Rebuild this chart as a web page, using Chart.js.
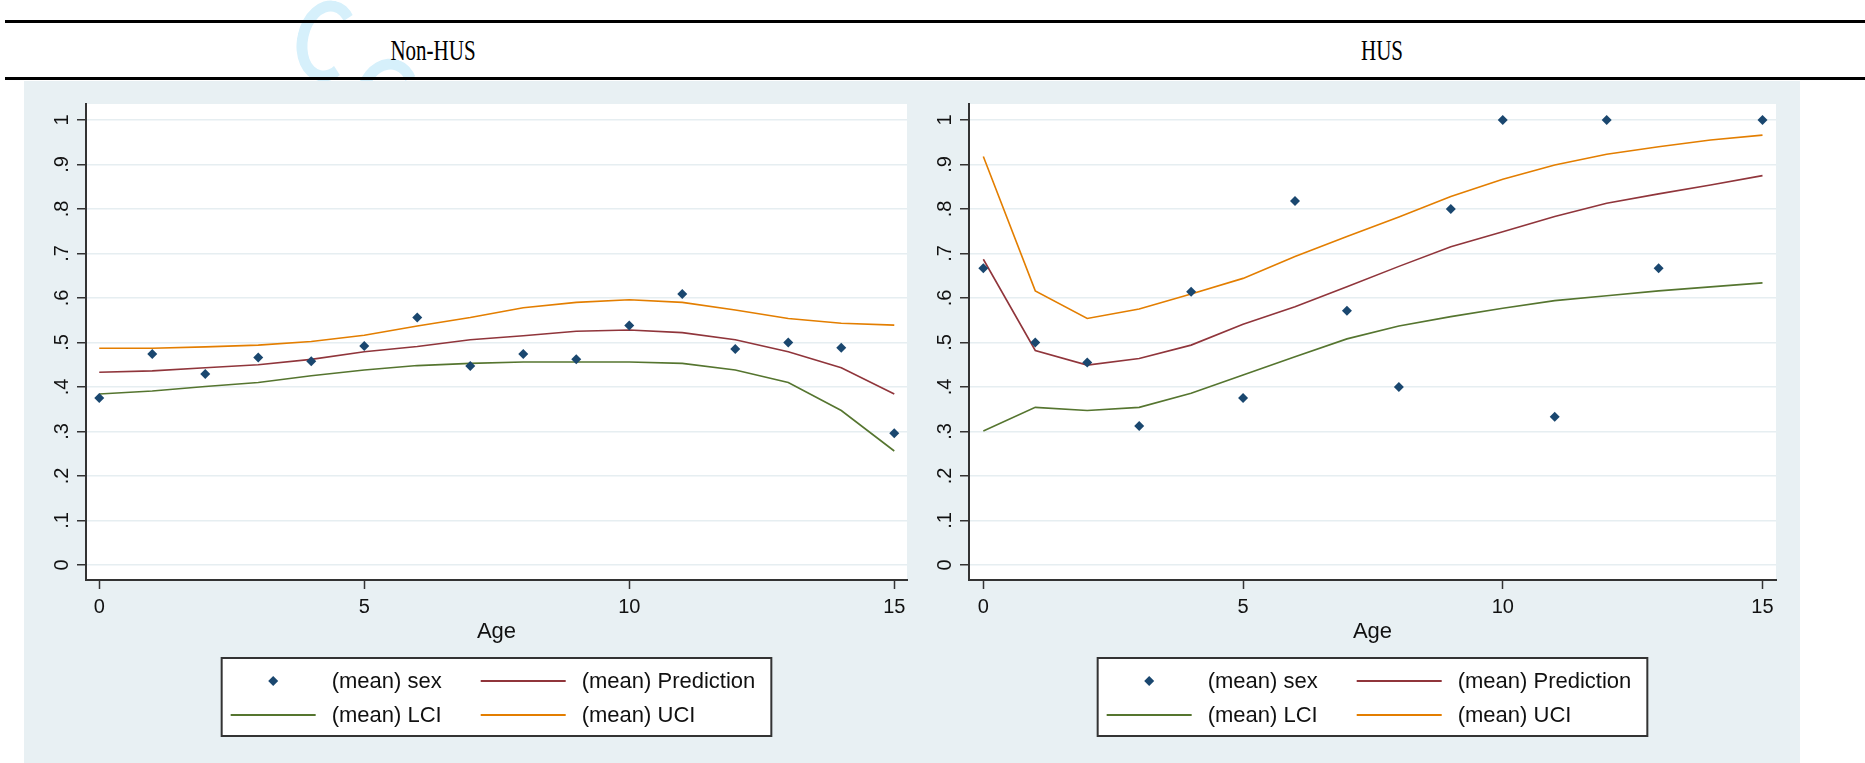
<!DOCTYPE html>
<html lang="en">
<head>
<meta charset="UTF-8">
<title>Non-HUS / HUS</title>
<script src="https://cdn.jsdelivr.net/npm/chart.js"></script>
<style>
    body {
        margin: 0;
        width: 1865px;
        height: 763px;
        position: relative;
        overflow: hidden;
        background: #fff;
        font-family: Arial, "Liberation Sans", sans-serif;
    }
    .mark {
        position: absolute;
        border: 11px solid #d6f0fb;
        border-right-color: transparent;
        border-radius: 50%;
        z-index: 0;
    }
    .rule {
        position: absolute;
        left: 5px;
        right: 0;
        height: 3px;
        background: #000;
        z-index: 2;
    }
    .title {
        position: absolute;
        top: 32px;
        line-height: 36px;
        font-family: "Times New Roman", "Liberation Serif", serif;
        font-size: 30px;
        white-space: nowrap;
        transform: translateX(-50%) scaleX(0.7);
        z-index: 2;
    }
    .panel {
        position: absolute;
        left: 24px;
        top: 81px;
        width: 1776px;
        height: 682px;
        background: #e8f0f3;
        z-index: 1;
    }
    canvas {
        position: absolute;
        top: 81px;
        z-index: 3;
    }
</style>
</head>
<body>
<div class="mark" style="left:297px; top:0px; width:38px; height:60px; transform:rotate(12deg);"></div>
<div class="mark" style="left:357px; top:58px; width:38px; height:50px; transform:rotate(20deg);"></div>
<div class="rule" style="top:20px;"></div>
<div class="title" style="left:433px;">Non-HUS</div>
<div class="title" style="left:1382px;">HUS</div>
<div class="rule" style="top:77px;"></div>
<div class="panel"></div>
<canvas id="nonHus" width="896" height="682" style="left:24px;"></canvas>
<canvas id="hus" width="880" height="682" style="left:920px;"></canvas>

<script>
    const ages = [0, 1, 2, 3, 4, 5, 6, 7, 8, 9, 10, 11, 12, 13, 14, 15];
    const xTickValues = [0, 5, 10, 15];
    const yTickValues = [0, 0.1, 0.2, 0.3, 0.4, 0.5, 0.6, 0.7, 0.8, 0.9, 1];
    const yTickLabels = ['0', '.1', '.2', '.3', '.4', '.5', '.6', '.7', '.8', '.9', '1'];
    const seriesNames = ['(mean) sex', '(mean) Prediction', '(mean) LCI', '(mean) UCI'];

    // Non-HUS
    const nonHusSex  = [0.375, 0.474, 0.429, 0.466, 0.458, 0.492, 0.556, 0.447, 0.474, 0.462, 0.538, 0.609, 0.485, 0.500, 0.488, 0.296];
    const nonHusPred = [0.433, 0.436, 0.443, 0.450, 0.462, 0.479, 0.491, 0.506, 0.515, 0.525, 0.528, 0.522, 0.506, 0.479, 0.443, 0.384];
    const nonHusLci  = [0.384, 0.391, 0.401, 0.410, 0.425, 0.438, 0.448, 0.453, 0.456, 0.456, 0.456, 0.453, 0.438, 0.410, 0.347, 0.256];
    const nonHusUci  = [0.487, 0.487, 0.490, 0.494, 0.502, 0.516, 0.537, 0.556, 0.578, 0.590, 0.596, 0.590, 0.573, 0.554, 0.543, 0.539];

    // HUS (no observation at age 14)
    const husSex  = [0.667, 0.500, 0.455, 0.312, 0.614, 0.375, 0.818, 0.571, 0.400, 0.800, 1.000, 0.333, 1.000, 0.667, null, 1.000];
    const husPred = [0.687, 0.482, 0.449, 0.464, 0.494, 0.541, 0.580, 0.625, 0.671, 0.715, 0.749, 0.783, 0.813, 0.834, 0.854, 0.875];
    const husLci  = [0.301, 0.354, 0.347, 0.354, 0.386, 0.427, 0.468, 0.508, 0.537, 0.558, 0.577, 0.594, 0.605, 0.616, 0.625, 0.634];
    const husUci  = [0.918, 0.616, 0.554, 0.575, 0.609, 0.644, 0.693, 0.738, 0.782, 0.828, 0.867, 0.899, 0.923, 0.940, 0.955, 0.966];

    // stata s2color
    const colors = ['#1a476f', '#90353b', '#55752f', '#e37e00'];
    const fontFamily = 'Arial, "Liberation Sans", sans-serif';
    const axisColor = '#333';

    Chart.defaults.font.family = fontFamily;
    Chart.defaults.color = '#111';

    const toPoints = (vals) => ages.map((a, i) => ({ x: a, y: vals[i] })).filter(p => p.y !== null);

    // white plot region
    const plotBackground = {
        id: 'plotBackground',
        beforeDraw(chart) {
            const { ctx, chartArea: a } = chart;
            ctx.save();
            ctx.fillStyle = '#fff';
            ctx.fillRect(a.left, a.top, a.right - a.left, a.bottom - a.top);
            ctx.restore();
        }
    };

    // boxed 2x2 legend like stata's
    const boxLegend = {
        id: 'boxLegend',
        afterDraw(chart) {
            const { ctx, chartArea: a } = chart;
            const ds = chart.data.datasets;
            ctx.save();
            ctx.font = '22px ' + fontFamily;
            const keyW = 85, pad = 9, gap = 16, colGap = 39, rightPad = 16;
            const w1 = Math.max(ctx.measureText(ds[0].label).width, ctx.measureText(ds[2].label).width);
            const w2 = Math.max(ctx.measureText(ds[1].label).width, ctx.measureText(ds[3].label).width);
            const boxW = pad + keyW + gap + w1 + colGap + keyW + gap + w2 + rightPad;
            const boxH = 78;
            const left = (a.left + a.right) / 2 - boxW / 2;
            const top = a.bottom + 78;
            ctx.fillStyle = '#fff';
            ctx.fillRect(left, top, boxW, boxH);
            ctx.strokeStyle = axisColor;
            ctx.lineWidth = 2;
            ctx.strokeRect(left, top, boxW, boxH);

            const rows = [top + 23, top + 57];
            const cols = [left + pad, left + pad + keyW + gap + w1 + colGap];
            ds.forEach((d, i) => {
                const x = cols[i % 2];
                const y = rows[Math.floor(i / 2)];
                if (d.showLine === false) {
                    const cx = x + keyW / 2, r = 5;
                    ctx.fillStyle = d.backgroundColor;
                    ctx.beginPath();
                    ctx.moveTo(cx - r, y);
                    ctx.lineTo(cx, y - r);
                    ctx.lineTo(cx + r, y);
                    ctx.lineTo(cx, y + r);
                    ctx.closePath();
                    ctx.fill();
                } else {
                    ctx.strokeStyle = d.borderColor;
                    ctx.lineWidth = 2;
                    ctx.beginPath();
                    ctx.moveTo(x, y);
                    ctx.lineTo(x + keyW, y);
                    ctx.stroke();
                }
                ctx.fillStyle = '#111';
                ctx.textBaseline = 'middle';
                ctx.textAlign = 'left';
                ctx.fillText(d.label, x + keyW + gap, y + 1);
            });
            ctx.restore();
        }
    };

    function makePanel(canvasId, data, area, xMin, xMax) {
        const canvas = document.getElementById(canvasId);
        const datasets = data.map((vals, i) => ({
            label: seriesNames[i],
            data: toPoints(vals),
            borderColor: colors[i],
            backgroundColor: colors[i],
            borderWidth: 1.6,
            showLine: i !== 0,
            pointRadius: i === 0 ? 5 : 0,
            pointHoverRadius: i === 0 ? 5 : 0,
            pointStyle: 'rectRot',
            pointBorderWidth: 0,
            tension: 0
        }));

        return new Chart(canvas.getContext('2d'), {
            type: 'line',
            data: { datasets: datasets },
            options: {
                responsive: false,
                animation: false,
                layout: {
                    padding: { top: area.top, right: canvas.width - area.right, left: 0, bottom: 0 }
                },
                plugins: {
                    legend: { display: false },
                    tooltip: { enabled: false }
                },
                scales: {
                    x: {
                        type: 'linear',
                        min: xMin,
                        max: xMax,
                        afterBuildTicks: (scale) => { scale.ticks = xTickValues.map(v => ({ value: v })); },
                        afterFit: (scale) => { scale.height = canvas.height - area.bottom; },
                        grid: {
                            drawOnChartArea: false,
                            tickLength: 9,
                            tickColor: axisColor,
                            tickWidth: 1.5
                        },
                        border: { color: axisColor, width: 2 },
                        ticks: {
                            font: { size: 20 },
                            padding: 6,
                            maxRotation: 0,
                            autoSkip: false,
                            callback: (v) => String(v)
                        },
                        title: {
                            display: true,
                            text: 'Age',
                            font: { size: 22 },
                            color: '#111',
                            padding: { top: 0, bottom: 118 }
                        }
                    },
                    y: {
                        min: -0.034,
                        max: 1.036,
                        afterBuildTicks: (scale) => { scale.ticks = yTickValues.map(v => ({ value: v })); },
                        afterFit: (scale) => { scale.width = area.left; },
                        grid: {
                            color: '#e6eef1',
                            lineWidth: 1.5,
                            tickLength: 9,
                            tickColor: axisColor,
                            tickWidth: 1.5
                        },
                        border: { color: axisColor, width: 2 },
                        ticks: {
                            font: { size: 20 },
                            padding: 6,
                            minRotation: 90,
                            maxRotation: 90,
                            crossAlign: 'center',
                            autoSkip: false,
                            callback: (v, idx) => yTickLabels[idx]
                        }
                    }
                }
            },
            plugins: [plotBackground, boxLegend]
        });
    }

    makePanel('nonHus', [nonHusSex, nonHusPred, nonHusLci, nonHusUci],
        { left: 62, right: 883, top: 23, bottom: 499 }, -0.25, 15.24);
    makePanel('hus', [husSex, husPred, husLci, husUci],
        { left: 49, right: 856, top: 23, bottom: 499 }, -0.276, 15.26);
</script>
</body>
</html>
